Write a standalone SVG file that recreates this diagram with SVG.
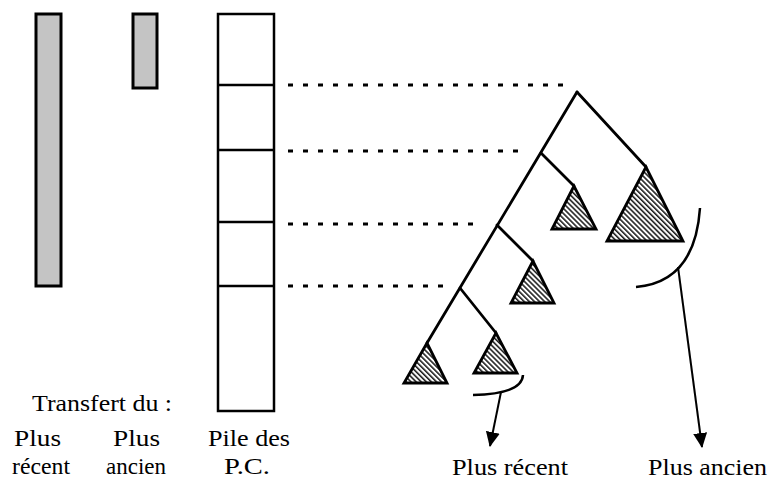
<svg xmlns="http://www.w3.org/2000/svg" width="771" height="481" viewBox="0 0 771 481">
<defs>
<style>
.bar{fill:#c4c4c4;stroke:#000;stroke-width:3}
.box{fill:#fff;stroke:#000;stroke-width:2.5}
.div{stroke:#000;stroke-width:2.5}
.dot{stroke:#000;stroke-width:3;stroke-dasharray:5 10;fill:none}
.br{stroke:#000;stroke-width:2.8;fill:none;stroke-linecap:round}
.tri{fill:url(#hatch);stroke:#000;stroke-width:2.8;stroke-linejoin:miter}
.arc{stroke:#000;stroke-width:2.5;fill:none}
.arr{stroke:#000;stroke-width:2;fill:none;marker-end:url(#ah)}
.lbl{font-family:"Liberation Serif","Times New Roman",serif;font-size:24px;fill:#000}
</style>
<pattern id="hatch" patternUnits="userSpaceOnUse" width="4" height="3.6" patternTransform="rotate(45)">
<rect width="4" height="3.6" fill="#fff"/>
<line x1="0" y1="1" x2="4" y2="1" stroke="#000" stroke-width="1.4"/>
</pattern>
<marker id="ah" markerUnits="userSpaceOnUse" markerWidth="16" markerHeight="16" viewBox="0 0 16 16" refX="14" refY="8" orient="auto">
<path d="M0,1 L15,8 L0,15 Z" fill="#000"/>
</marker>
</defs>
<g id="bar-recent"><rect class="bar" x="36" y="14" width="25" height="272"/></g>
<g id="bar-ancien"><rect class="bar" x="133" y="14" width="24" height="74"/></g>
<g id="pile">
<rect class="box" x="218" y="14" width="56" height="397"/>
<line class="div" x1="218" y1="85" x2="274" y2="85"/>
<line class="div" x1="218" y1="150" x2="274" y2="150"/>
<line class="div" x1="218" y1="222" x2="274" y2="222"/>
<line class="div" x1="218" y1="286" x2="274" y2="286"/>
</g>
<g id="connectors">
<line class="dot" x1="288" y1="85" x2="570" y2="85"/>
<line class="dot" x1="288" y1="151" x2="527" y2="151"/>
<line class="dot" x1="288" y1="224" x2="480" y2="224"/>
<line class="dot" x1="288" y1="286" x2="450" y2="286"/>
<line class="br" x1="577" y1="92" x2="427" y2="343"/>
<line class="br" x1="577" y1="92" x2="646" y2="167"/>
<line class="br" x1="541" y1="153" x2="574" y2="186"/>
<line class="br" x1="497" y1="225" x2="533" y2="261"/>
<line class="br" x1="460" y1="288" x2="496" y2="333"/>
<path class="arc" d="M700,208 Q695,282 636,287"/>
<path class="arc" d="M523,375 Q522,394 473,395"/>
<line class="arr" x1="678" y1="267" x2="702" y2="447"/>
<line class="arr" x1="501" y1="392" x2="490" y2="446"/>
</g>
<g id="t-big"><polygon class="tri" points="646,167 607,241 683,241"/></g>
<g id="t2"><polygon class="tri" points="574,186 552,229 596,229"/></g>
<g id="t3"><polygon class="tri" points="533,261 511,303 554,303"/></g>
<g id="t4"><polygon class="tri" points="496,333 474,373 517,373"/></g>
<g id="t5"><polygon class="tri" points="427,343 404,383 447,383"/></g>
<g id="labels">
<text class="lbl" x="32" y="411" textLength="140" lengthAdjust="spacingAndGlyphs">Transfert du :</text>
<text class="lbl" x="14" y="446" textLength="47" lengthAdjust="spacingAndGlyphs">Plus</text>
<text class="lbl" x="113" y="446" textLength="47" lengthAdjust="spacingAndGlyphs">Plus</text>
<text class="lbl" x="12" y="474" textLength="58" lengthAdjust="spacingAndGlyphs">récent</text>
<text class="lbl" x="106" y="474" textLength="60" lengthAdjust="spacingAndGlyphs">ancien</text>
<text class="lbl" x="208" y="446" textLength="82" lengthAdjust="spacingAndGlyphs">Pile des</text>
<text class="lbl" x="224" y="474" textLength="46" lengthAdjust="spacingAndGlyphs">P.C.</text>
<text class="lbl" x="452" y="475" textLength="116" lengthAdjust="spacingAndGlyphs">Plus récent</text>
<text class="lbl" x="648" y="475" textLength="119" lengthAdjust="spacingAndGlyphs">Plus ancien</text>
</g>
</svg>
